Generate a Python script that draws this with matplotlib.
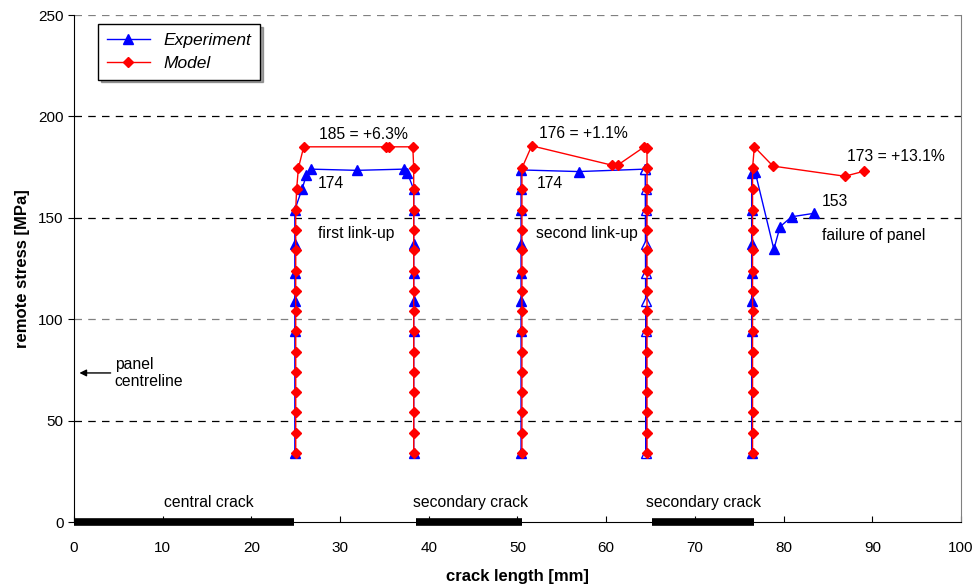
import matplotlib
matplotlib.use('Agg')
import matplotlib.pyplot as plt
import numpy as np

plt.rcParams['font.family'] = ['Liberation Sans', 'DejaVu Sans']

# stress levels along the vertical crack-growth columns
col_model = [34, 44, 54, 64, 74, 84, 94, 104, 114, 124, 134, 144, 154, 164, 174.5]
col_exp = [34, 94, 109, 123, 137, 154, 164]

# first link-up
m1_left_x = 25.0
m1_top_x = [25.1, 25.3, 25.9, 35.2, 35.5, 38.2]
m1_top_y = [164, 174.5, 185, 185, 185, 185]
m1_right_x = 38.3
e1_left_x = 24.9
e1_top_x = [25.7, 26.2, 26.7, 31.9, 37.2, 37.6]
e1_top_y = [164, 171, 174, 173.4, 174, 172]
e1_right_x = 38.3

# second link-up
m2_left_x = 50.5
m2_top_x = [50.5, 51.6, 60.6, 61.3, 64.3, 64.6]
m2_top_y = [185, 185.5, 176, 176, 185, 184.5]
m2_right_x = 64.6
e2_left_x = 50.4
e2_top_x = [50.4, 50.4, 56.9, 64.4]
e2_top_y = [164, 173.6, 172.8, 174]
e2_right_x = 64.5

# failure of panel
m3_x = 76.5
m3_top_x = [76.7, 78.8, 86.9, 89.1]
m3_top_y = [185, 175.5, 170.5, 173]
e3_x = 76.4
e3_top_x = [76.4, 76.8, 78.9, 79.6, 80.9, 83.4]
e3_top_y = [172, 172.5, 134.5, 145.6, 150.5, 152.2]

crack_start = [0, 38.6, 65.2]
crack_end = [24.8, 50.5, 76.7]
crack_names = ['central crack', 'secondary crack', 'secondary crack']
crack_label_x = [15.2, 44.7, 71.0]

# assemble series (NaN breaks between groups)
col_model_no_top = col_model[:-2]
mx = ([m1_left_x] * len(col_model_no_top) + m1_top_x + [m1_right_x] * len(col_model) + [np.nan]
      + [m2_left_x] * len(col_model) + m2_top_x[1:] + [m2_right_x] * len(col_model) + [np.nan]
      + [m3_x] * len(col_model) + m3_top_x)
my = (col_model_no_top + m1_top_y + col_model[::-1] + [np.nan]
      + col_model + m2_top_y[1:] + col_model[::-1] + [np.nan]
      + col_model + m3_top_y)

col_exp_no_top = col_exp[:-1]
ex = ([e1_left_x] * len(col_exp_no_top) + e1_top_x + [e1_right_x] * len(col_exp) + [np.nan]
      + [e2_left_x] * len(col_exp_no_top) + e2_top_x + [np.nan]
      + [e3_x] * len(col_exp_no_top) + e3_top_x)
ey = (col_exp_no_top + e1_top_y + col_exp[::-1] + [np.nan]
      + col_exp_no_top + e2_top_y + [np.nan]
      + col_exp_no_top + e3_top_y)

fig = plt.figure(figsize=(9.72, 5.86), dpi=100)
ax = fig.add_axes([0.0761, 0.1092, 0.9126, 0.8652])

# grid
for lvl, c in zip([50, 100, 150, 200, 250], ['black', 'grey', 'black', 'black', 'grey']):
    ax.axhline(lvl, color=c, linestyle=(0, (6, 5)), linewidth=0.9, zorder=0)

ax.plot(ex, ey, color='blue', marker='^', markersize=7, linewidth=1, label='Experiment', zorder=3)
# right column of second link-up (open symbols)
ax.plot([e2_right_x] * len(col_exp) + [64.4], col_exp[::-1] + [174], color='blue', marker='^',
        markersize=7, markerfacecolor='white', linewidth=1, zorder=3)
ax.plot(mx, my, color='red', marker='D', markersize=5.3, linewidth=1, label='Model', zorder=4)

# crack bars
fs = 11.3
for s, e, n, lx in zip(crack_start, crack_end, crack_names, crack_label_x):
    ax.plot([s, e], [0, 0], color='black', linewidth=5.5, solid_capstyle='butt', clip_on=False, zorder=5)
    ax.text(lx, 9.5, n, ha='center', va='center', fontsize=fs)

ax.text(32.6, 191, '185 = +6.3%', ha='center', va='center', fontsize=fs)
ax.text(29.0, 167, '174', ha='center', va='center', fontsize=fs)
ax.text(31.8, 142.5, 'first link-up', ha='center', va='center', fontsize=fs)
ax.text(57.4, 191.5, '176 = +1.1%', ha='center', va='center', fontsize=fs)
ax.text(53.7, 167, '174', ha='center', va='center', fontsize=fs)
ax.text(57.8, 142.5, 'second link-up', ha='center', va='center', fontsize=fs)
ax.text(92.7, 180, '173 = +13.1%', ha='center', va='center', fontsize=fs)
ax.text(85.8, 158, '153', ha='center', va='center', fontsize=fs)
ax.text(90.2, 141.5, 'failure of panel', ha='center', va='center', fontsize=fs)
ax.annotate('panel\ncentreline', xy=(0.3, 73.5), xytext=(4.6, 73.5), fontsize=fs,
            va='center', ha='left', linespacing=1.2,
            arrowprops=dict(arrowstyle='-|>', color='black', lw=1, mutation_scale=10, shrinkA=1))

ax.set_xlim(0, 100)
ax.set_ylim(0, 250)
ax.set_xticks(np.arange(0, 101, 10))
ax.set_yticks(np.arange(0, 251, 50))
ax.tick_params(axis='both', labelsize=11)
ax.tick_params(axis='x', direction='in', length=4, pad=14)
ax.tick_params(axis='y', direction='out', length=4)
ax.spines['top'].set_visible(False)
ax.spines['right'].set_color('grey')
ax.set_xlabel('crack length [mm]', fontsize=12, fontweight='bold', labelpad=10)
ax.set_ylabel('remote stress [MPa]', fontsize=12, fontweight='bold', labelpad=6)

leg = ax.legend(loc='upper left', bbox_to_anchor=(0.027, 0.982), borderaxespad=0, fontsize=12.5,
                frameon=True, shadow=True, fancybox=False, borderpad=0.5, handlelength=2.5,
                labelspacing=0.45)
leg.get_frame().set_edgecolor('black')
for t in leg.get_texts():
    t.set_fontstyle('italic')

fig.savefig('out.png', dpi=100)
